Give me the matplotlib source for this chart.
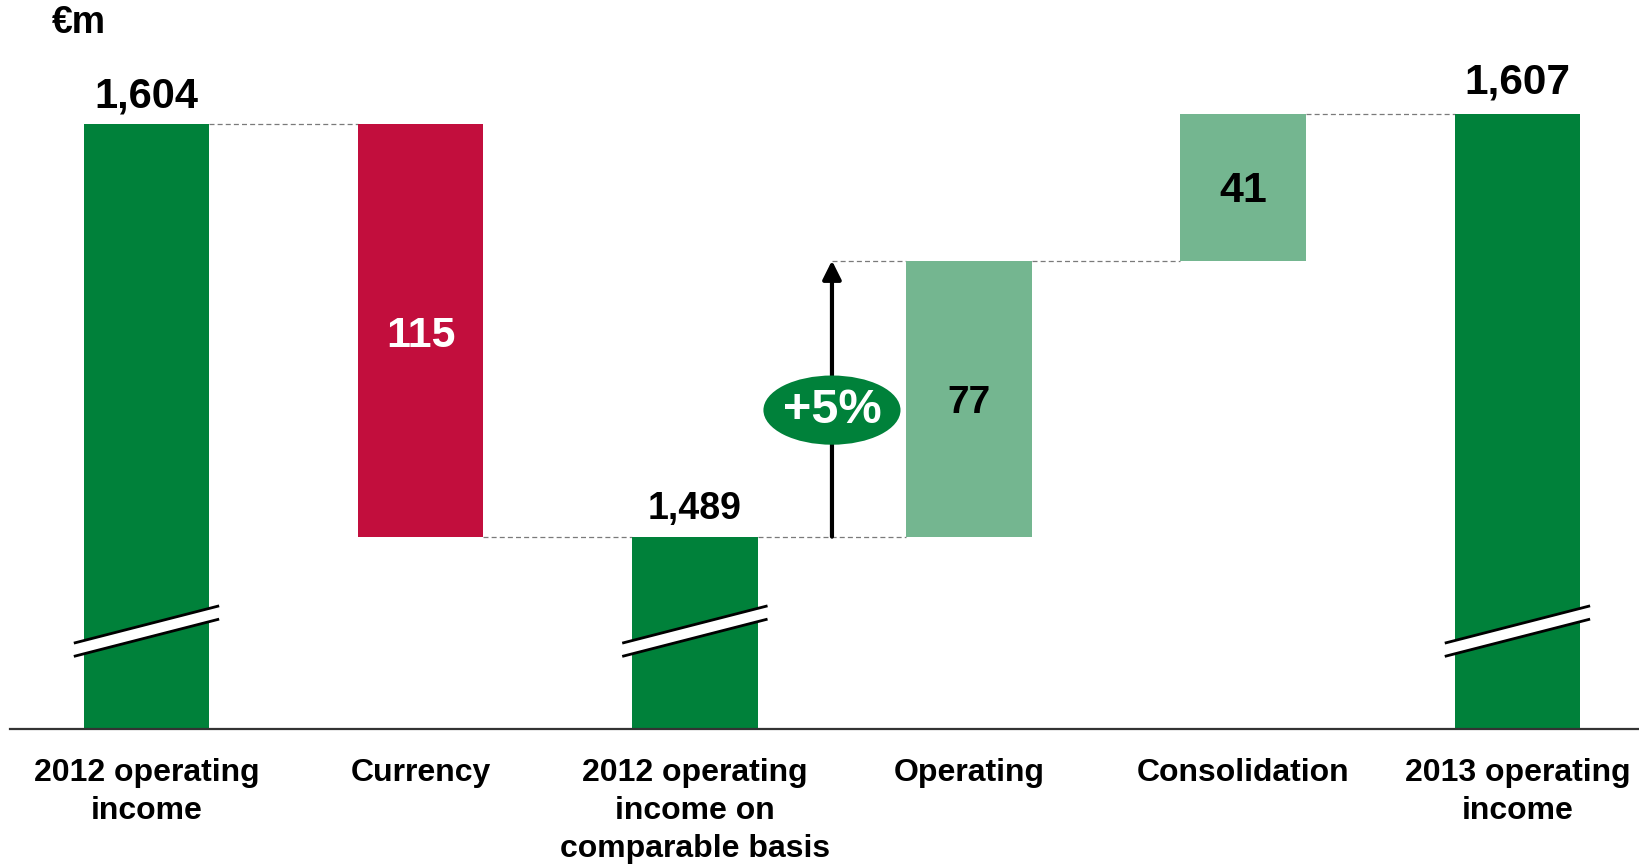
import numpy as np
import matplotlib.pyplot as plt
from matplotlib.patches import Ellipse, Polygon

plt.rcParams['font.family'] = ['Liberation Sans', 'DejaVu Sans']
plt.rcParams['font.weight'] = 'bold'

# data
categories = ["2012 operating\nincome", "Currency", "2012 operating\nincome on\ncomparable basis",
              "Operating", "Consolidation", "2013 operating\nincome"]
start_total = 1604
currency = -115
comparable_total = 1489
operating = 77
consolidation = 41
end_total = 1607
growth_label = "+5%"

dark_green = '#00813A'
red = '#C20E3D'
light_green = '#74B690'
dash_grey = '#7a7a7a'

fig = plt.figure(figsize=(16.4, 8.66), dpi=100)
ax = fig.add_axes([0.0064, 0.158, 0.9936, 0.842])
ax.set_xlim(-0.496, 5.447)
ax.set_ylim(1435.3, 1638.7)

x = np.arange(len(categories))
w = 0.458

# totals (bars start below the visible, broken axis)
totals = {0: start_total, 2: comparable_total, 5: end_total}
for i, v in totals.items():
    ax.bar(x[i], v, width=w, color=dark_green, zorder=2)

# deltas
after_ops = comparable_total + operating
ax.bar(x[1], -currency, bottom=comparable_total, width=w, color=red, zorder=2)
ax.bar(x[3], operating, bottom=comparable_total, width=w, color=light_green, zorder=2)
ax.bar(x[4], consolidation, bottom=after_ops, width=w, color=light_green, zorder=2)

# connectors
dash = dict(color=dash_grey, lw=0.9, ls=(0, (4, 2.5)), zorder=1)
ax.plot([x[0] + w / 2, x[1] - w / 2], [start_total] * 2, **dash)
ax.plot([x[1] + w / 2, x[2] - w / 2], [comparable_total] * 2, **dash)
ax.plot([x[2] + w / 2, x[3] - w / 2], [comparable_total] * 2, **dash)
ax.plot([2.5, x[3] - w / 2], [after_ops] * 2, **dash)
ax.plot([x[3] + w / 2, x[4] - w / 2], [after_ops] * 2, **dash)
ax.plot([x[4] + w / 2, x[5] - w / 2], [end_total] * 2, **dash)

# axis break marks
for i in totals:
    c = x[i]
    xs = [c - 0.265, c + 0.265]
    up = [1459.3, 1469.7]
    lo = [1455.6, 1466.0]
    ax.add_patch(Polygon([[xs[0], lo[0]], [xs[1], lo[1]], [xs[1], up[1]], [xs[0], up[0]]],
                         closed=True, facecolor='white', edgecolor='none', zorder=3))
    ax.plot(xs, up, color='black', lw=2, zorder=4, solid_capstyle='butt')
    ax.plot(xs, lo, color='black', lw=2, zorder=4, solid_capstyle='butt')

# value labels
def fmt(v):
    return f"{v:,}"

ax.annotate(fmt(start_total), (x[0], start_total), xytext=(0, 6), textcoords='offset points',
            ha='center', va='bottom', fontsize=30, fontweight='bold')
ax.annotate(fmt(comparable_total), (x[2], comparable_total), xytext=(0, 7), textcoords='offset points',
            ha='center', va='bottom', fontsize=27, fontweight='bold')
ax.annotate(fmt(end_total), (x[5], end_total), xytext=(0, 8), textcoords='offset points',
            ha='center', va='bottom', fontsize=30.5, fontweight='bold')
inside = dict(ha='center', va='center', textcoords='offset points', fontweight='bold', zorder=5)
ax.annotate(str(-currency), (x[1], comparable_total - currency / 2), xytext=(0, -4),
            fontsize=31, color='white', **inside)
ax.annotate(str(operating), (x[3], comparable_total + operating / 2), xytext=(0, -3),
            fontsize=28, color='black', **inside)
ax.annotate(str(consolidation), (x[4], after_ops + consolidation / 2), xytext=(0, -3),
            fontsize=31, color='black', **inside)

# growth arrow + badge
ax.annotate('', xy=(2.5, after_ops), xytext=(2.5, comparable_total),
            arrowprops=dict(arrowstyle='-|>', lw=3, color='black', mutation_scale=28,
                            shrinkA=0, shrinkB=0), zorder=5)
ax.add_patch(Ellipse((2.5, 1524.3), 0.5, 19.3, facecolor=dark_green, edgecolor='none', zorder=6))
ax.text(2.5, 1524.3, growth_label, ha='center', va='center', fontsize=35, fontweight='bold',
        color='white', zorder=7)

# axes styling
for s in ['top', 'right', 'left']:
    ax.spines[s].set_visible(False)
ax.spines['bottom'].set_color('#333333')
ax.spines['bottom'].set_linewidth(1.6)
ax.set_yticks([])
ax.set_xticks(x)
ax.set_xticklabels(categories, fontsize=23, fontweight='bold', linespacing=1.34)
ax.tick_params(axis='x', length=0, pad=21)

fig.text(52 / 1640, 1 - 23 / 866, "€m", ha='left', va='center', fontsize=27, fontweight='bold')

fig.savefig('out.png', dpi=100)
